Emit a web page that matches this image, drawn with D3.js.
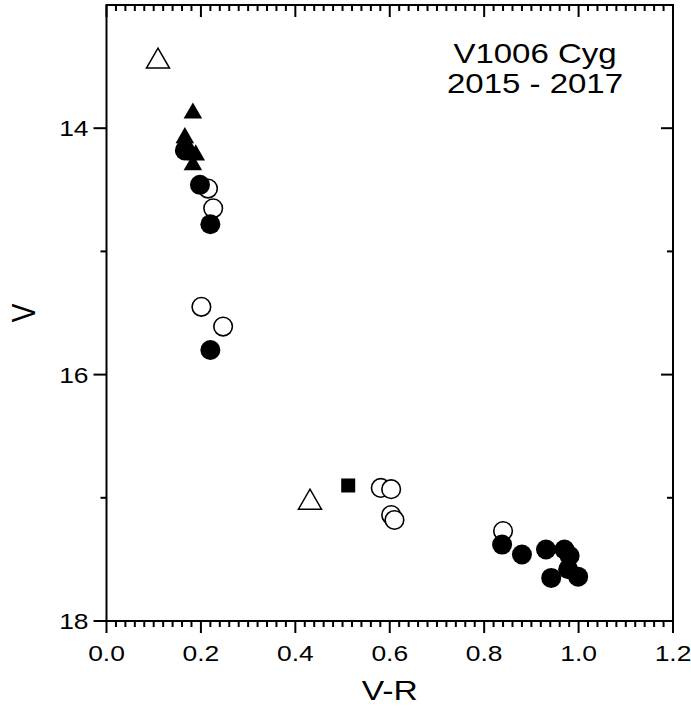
<!DOCTYPE html>
<html>
<head>
<meta charset="utf-8">
<script src="https://cdn.jsdelivr.net/npm/d3@7"></script>
<style>
  body { margin: 0; background: #fff; }
  text { font-family: "Liberation Sans", Arial, sans-serif; }
</style>
</head>
<body>
<div id="chart"></div>
<script>
// V-R colour vs V magnitude, grouped by marker type
const filledCircles = [
  [0.166, 14.18], [0.198, 14.46], [0.220, 14.78], [0.220, 15.80],
  [0.838, 17.38], [0.880, 17.46], [0.931, 17.42], [0.970, 17.42],
  [0.981, 17.47], [0.978, 17.58], [0.942, 17.65], [0.999, 17.64]
];
const openCircles = [
  [0.215, 14.49], [0.226, 14.65], [0.201, 15.45], [0.247, 15.61],
  [0.581, 16.92], [0.603, 16.93], [0.603, 17.14], [0.610, 17.18],
  [0.840, 17.27]
];
const filledTriangles = [
  [0.183, 13.87], [0.166, 14.07], [0.189, 14.21], [0.183, 14.29]
];
const openTriangles = [
  [0.109, 13.45], [0.431, 17.03]
];
const filledSquares = [
  [0.512, 16.90]
];
const xTicks = [0.0, 0.2, 0.4, 0.6, 0.8, 1.0, 1.2];
const yTicks = [14, 16, 18];
const titleLines = ["V1006 Cyg", "2015 - 2017"];

const width = 691, height = 718;
const margin = {left: 106.5, right: 18, top: 5, bottom: 97};
const stretch = 1.2; // the original lettering is a bit wider than Arial

const svg = d3.select("#chart").append("svg")
  .attr("width", width)
  .attr("height", height);

const x = d3.scaleLinear().domain([0, 1.2]).range([margin.left, width - margin.right]);
const y = d3.scaleLinear().domain([13, 18]).range([margin.top, height - margin.bottom]);

const minorX = d3.range(0, 61).map(i => i * 0.02);
const minorY = [14, 15, 16, 17];
const isMajorX = d => Math.abs(d * 5 - Math.round(d * 5)) < 1e-6;

// frame
svg.append("rect")
  .attr("x", x(0)).attr("y", y(13))
  .attr("width", x(1.2) - x(0)).attr("height", y(18) - y(13))
  .attr("fill", "none").attr("stroke", "#000").attr("stroke-width", 2);

// bottom axis (outward ticks)
const bottom = svg.append("g").attr("transform", `translate(0,${y(18)})`);
bottom.selectAll("line").data(minorX).join("line")
  .attr("x1", d => x(d)).attr("x2", d => x(d))
  .attr("y1", 0).attr("y2", d => isMajorX(d) ? 12 : 6)
  .attr("stroke", "#000").attr("stroke-width", 2);
bottom.selectAll("text").data(xTicks).join("text")
  .attr("transform", d => `translate(${x(d)},40) scale(${stretch},1)`)
  .attr("text-anchor", "middle")
  .attr("font-size", 22)
  .text(d => d3.format(".1f")(d));

// top axis (inward ticks)
svg.append("g").attr("transform", `translate(0,${y(13)})`)
  .selectAll("line").data(minorX).join("line")
  .attr("x1", d => x(d)).attr("x2", d => x(d))
  .attr("y1", 0).attr("y2", d => isMajorX(d) ? 12 : 6)
  .attr("stroke", "#000").attr("stroke-width", 2);

// left axis (outward ticks)
const left = svg.append("g").attr("transform", `translate(${x(0)},0)`);
left.selectAll("line").data(minorY.concat([18])).join("line")
  .attr("x1", 0).attr("x2", d => d % 2 === 0 ? -13 : -6)
  .attr("y1", d => y(d)).attr("y2", d => y(d))
  .attr("stroke", "#000").attr("stroke-width", 2);
left.selectAll("text").data(yTicks).join("text")
  .attr("transform", d => `translate(-18,${y(d) + 8}) scale(${stretch},1)`)
  .attr("text-anchor", "end")
  .attr("font-size", 22)
  .text(d => d);

// right axis (inward ticks)
svg.append("g").attr("transform", `translate(${x(1.2)},0)`)
  .selectAll("line").data(minorY).join("line")
  .attr("x1", 0).attr("x2", d => d % 2 === 0 ? -12 : -6)
  .attr("y1", d => y(d)).attr("y2", d => y(d))
  .attr("stroke", "#000").attr("stroke-width", 2);

// axis titles
svg.append("text")
  .attr("transform", `translate(${(x(0) + x(1.2)) / 2},700) scale(${stretch},1)`)
  .attr("text-anchor", "middle").attr("font-size", 28)
  .text("V-R");
svg.append("text")
  .attr("transform", `translate(35,${(y(13) + y(18)) / 2}) rotate(-90) scale(1,${stretch})`)
  .attr("text-anchor", "middle").attr("font-size", 28)
  .text("V");

// title block
svg.append("g").selectAll("text").data(titleLines).join("text")
  .attr("transform", (d, i) => `translate(535,${63 + i * 29.5}) scale(${stretch},1)`)
  .attr("text-anchor", "middle").attr("font-size", 27.5)
  .text(d => d);

// markers
const plot = svg.append("g");

plot.selectAll("path.otri").data(openTriangles).join("path")
  .attr("transform", d => `translate(${x(d[0])},${y(d[1]) + 1})`)
  .attr("d", d3.symbol().type(d3.symbolTriangle).size(230)())
  .attr("fill", "#fff").attr("stroke", "#000").attr("stroke-width", 1.5);

plot.selectAll("rect.sq").data(filledSquares).join("rect")
  .attr("x", d => x(d[0]) - 7).attr("y", d => y(d[1]) - 7)
  .attr("width", 14).attr("height", 14)
  .attr("fill", "#000");

plot.selectAll("circle.open").data(openCircles).join("circle")
  .attr("cx", d => x(d[0])).attr("cy", d => y(d[1])).attr("r", 9.3)
  .attr("fill", "#fff").attr("stroke", "#000").attr("stroke-width", 1.6);

plot.selectAll("circle.filled").data(filledCircles).join("circle")
  .attr("cx", d => x(d[0])).attr("cy", d => y(d[1])).attr("r", 10)
  .attr("fill", "#000");

plot.selectAll("path.ftri").data(filledTriangles).join("path")
  .attr("transform", d => `translate(${x(d[0])},${y(d[1]) + 1})`)
  .attr("d", d3.symbol().type(d3.symbolTriangle).size(150)())
  .attr("fill", "#000");
</script>
</body>
</html>
